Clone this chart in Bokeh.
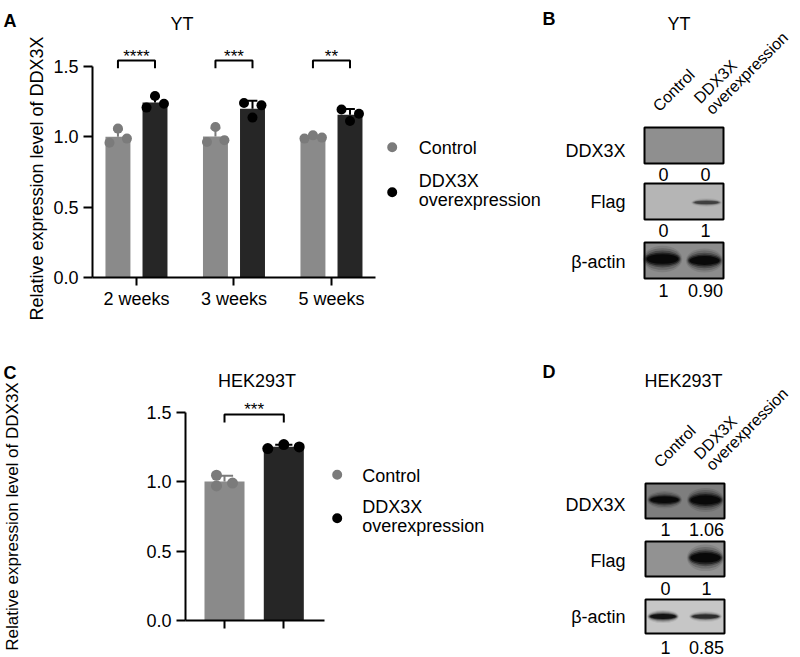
import numpy as np
from bokeh.plotting import figure
from bokeh.models import Range1d, FixedTicker, PrintfTickFormatter
from bokeh.layouts import row, column
from bokeh.embed import file_html
from bokeh.resources import INLINE
from bokeh.core.properties import value

FONT = "Liberation Sans"

# ---------------- data ----------------
weeks = ["2 weeks", "3 weeks", "5 weeks"]
yt_control = [[0.957, 1.057, 0.986], [0.962, 1.068, 0.974], [0.986, 1.009, 0.993]]
yt_ddx3x = [[1.206, 1.289, 1.234], [1.239, 1.135, 1.222], [1.192, 1.111, 1.163]]
yt_stars = ["****", "***", "**"]
hek_control = [[1.046, 0.969, 0.990]]
hek_ddx3x = [[1.238, 1.267, 1.250]]
hek_stars = ["***"]
y_ticks = [0.0, 0.5, 1.0, 1.5]
groups = ["Control", "DDX3X", "overexpression"]
y_title = "Relative expression level of DDX3X"
blot_rows = ["DDX3X", "Flag", "β-actin"]
lanes = ["Control", "DDX3X", "overexpression"]
yt_quant = [["0", "0"], ["0", "1"], ["1", "0.90"]]
hek_quant = [["1", "1.06"], ["0", "1"], ["1", "0.85"]]
yt_band = [[0.0, 0.0], [0.0, 0.45], [1.0, 0.95]]
hek_band = [[0.95, 1.0], [0.0, 1.0], [0.85, 0.6]]

CTRL_BAR, CTRL_PT = "#8a8a8a", "#7b7b7b"
DDX_BAR, DDX_PT = "#262626", "#000000"


def no_align(p):
    if "frame_align" in p.properties():
        p.frame_align = False
    return p


def t(p, x, y, s, size="18px", align="left", baseline="middle", bold=False, angle=0.0):
    p.text(x=[x], y=[y], text=[s], text_font=value(FONT), text_font_size=size,
           text_align=align, text_baseline=baseline, angle=angle,
           text_font_style="bold" if bold else "normal", text_color="black")


def bar_chart(width, height, borders, xr, yr, ctrl, ddx, xticks, xlabels, stars,
              bar_w, off, cap_w, jit_c, jit_d, pt, bracket_y, star_y, xs):
    ctrl = np.array(ctrl)
    ddx = np.array(ddx)
    xs = np.array(xs, dtype=float)
    p = figure(width=width, height=height, output_backend="svg", toolbar_location=None,
               x_range=Range1d(*xr), y_range=Range1d(*yr),
               min_border_left=borders[0], min_border_right=borders[1],
               min_border_top=borders[2], min_border_bottom=borders[3])
    no_align(p)
    p.xgrid.visible = False
    p.ygrid.visible = False
    p.outline_line_color = None
    for data, sign, bcol, pcol, jit in [(ctrl, -1, CTRL_BAR, CTRL_PT, jit_c),
                                        (ddx, 1, DDX_BAR, DDX_PT, jit_d)]:
        m = data.mean(axis=1)
        sd = data.std(axis=1, ddof=1)
        xc = xs + sign * off
        p.vbar(x=xc, top=m, bottom=0, width=bar_w, fill_color=bcol, line_color=None)
        p.segment(x0=xc, y0=m, x1=xc, y1=m + sd, line_color=pcol, line_width=2)
        p.segment(x0=xc - cap_w / 2, y0=m + sd, x1=xc + cap_w / 2, y1=m + sd,
                  line_color=pcol, line_width=2)
        px = (xc[:, None] + np.array(jit)[None, :]).ravel()
        p.scatter(x=px, y=data.ravel(), size=pt, fill_color=pcol, line_color=None)
    xl = xs - off
    xrr = xs + off
    p.multi_line(xs=[[a, a, b, b] for a, b in zip(xl, xrr)],
                 ys=[[bracket_y[1], bracket_y[0], bracket_y[0], bracket_y[1]]] * len(xs),
                 line_color="black", line_width=2)
    p.text(x=xs, y=[star_y] * len(xs), text=stars, text_font=value(FONT),
           text_font_size="17px", text_align="center", text_baseline="middle", text_color="black")
    p.xaxis.ticker = FixedTicker(ticks=list(xticks))
    p.xaxis.major_label_overrides = {k: v for k, v in zip(xticks, xlabels)}
    p.yaxis.ticker = FixedTicker(ticks=y_ticks)
    p.yaxis.formatter = PrintfTickFormatter(format="%.1f")
    p.yaxis.bounds = (0, 1.5)
    for ax in (p.xaxis[0], p.yaxis[0]):
        ax.axis_line_width = 2
        ax.axis_line_color = "black"
        ax.major_tick_line_width = 2
        ax.major_tick_line_color = "black"
        ax.major_tick_in = 0
        ax.minor_tick_line_color = None
        ax.major_label_text_font = FONT
        ax.major_label_text_font_size = "18px"
        ax.major_label_text_color = "black"
    p.yaxis.major_tick_out = 9
    p.yaxis.major_label_standoff = 5
    p.xaxis.major_tick_out = 8
    p.xaxis.major_label_standoff = 3
    return p


def blank(width, height):
    p = figure(width=width, height=height, output_backend="svg", toolbar_location=None,
               x_range=Range1d(0, width), y_range=Range1d(height, 0),
               x_axis_location=None, y_axis_location=None,
               min_border_left=0, min_border_right=0, min_border_top=0, min_border_bottom=0)
    no_align(p)
    p.xgrid.visible = False
    p.ygrid.visible = False
    p.outline_line_color = None
    return p


def legend(p, mx, my, tx, ty):
    p.scatter(x=[mx], y=[my[0]], size=10, fill_color=CTRL_PT, line_color=None)
    p.scatter(x=[mx], y=[my[1]], size=10, fill_color=DDX_PT, line_color=None)
    for s, y in zip(groups, ty):
        t(p, tx, y, s)


BLUR = [(1.10, 2.2, 0.10), (1.05, 1.8, 0.18), (1.0, 1.4, 0.32), (0.95, 1.1, 0.55), (0.88, 0.8, 0.9)]


def blot(p, box_x, tops, heights, bgs, lane_x, band_geo, strengths, quants, quant_y,
         label_x, label_y):
    x0, x1 = box_x
    for i in range(3):
        top, h = tops[i], heights[i]
        p.rect(x=(x0 + x1) / 2, y=top + h / 2, width=x1 - x0, height=h,
               fill_color=bgs[i], line_color=None)
        for j in range(2):
            s = strengths[i][j]
            if s <= 0:
                continue
            cx, cy, w, bh = band_geo[i][j]
            for sw, sh, a in BLUR:
                p.ellipse(x=cx, y=cy, width=w * sw, height=bh * sh,
                          fill_color="#050505", fill_alpha=a * s, line_color=None)
        p.rect(x=(x0 + x1) / 2, y=top + h / 2, width=x1 - x0, height=h,
               fill_color=None, line_color="black", line_width=2)
        t(p, label_x, label_y[i], blot_rows[i], align="right")
        for j in range(2):
            t(p, lane_x[j], quant_y[i], quants[i][j], align="center")


def lane_labels(p, anchors):
    for s, (x, y) in zip(lanes, anchors):
        t(p, x, y, s, size="16px", baseline="alphabetic", angle=np.pi / 4)


# ---------------- Panel A ----------------
A_L, A_B, A_XS, A_YS, A_X0 = 92.0, 277.0, 97.5, 140.87, 0.549   # frame pixels / scales
pLA = blank(50, 322)
t(pLA, 3, 20, "A", bold=True, baseline="alphabetic")
t(pLA, 36, 178, y_title, align="center", angle=np.pi / 2)

pA = bar_chart(330, 322, (42, 5, 0, 45), (A_X0, A_X0 + 283 / A_XS), (0, A_B / A_YS),
               yt_control, yt_ddx3x, [1, 2, 3], weeks, yt_stars,
               0.256, 0.19, 0.10, [-0.087, 0.0, 0.092], [-0.087, 0.0, 0.092], 10,
               (1.54, 1.486), 1.57, [1, 2, 3])
t(pA, A_X0 + (181.5 - A_L) / A_XS, (A_B - 23.5) / A_YS, "YT", align="center", baseline="alphabetic")

# ---------------- Panel B (+ legend of A) ----------------
pB = blank(420, 322)
legend(pB, 11.7, (146.7, 191.7), 38.3, (147, 180, 199))
t(pB, 162, 18.3, "B", bold=True, baseline="alphabetic")
t(pB, 298.5, 23.3, "YT", align="center", baseline="alphabetic")
lane_labels(pB, [(275, 108), (316, 100), (328, 111)])
blot(pB, (264, 343), [127, 183, 242], [36, 36, 36], ["#8f8f8f", "#b5b5b5", "#8c8c8c"],
     [283, 325],
     [[(283, 145, 34, 10), (325, 145, 34, 10)],
      [(283, 202, 28, 4), (326, 202, 28, 4)],
      [(282, 258.5, 36, 12), (324, 260, 34, 11)]],
     yt_band, yt_quant, [174, 230, 290], 245, [150, 201.6, 261])

# ---------------- Panel C ----------------
C_L, C_B, C_XS, C_YS, C_TOP = 185.0, 620.0, 59.3, 138.87, 322.0
pLC = blank(30, 335)
t(pLC, 3, 372 - C_TOP, "C", bold=True, baseline="alphabetic")
t(pLC, 12, 516 - C_TOP, y_title, size="17px", align="center", angle=np.pi / 2)

pC = bar_chart(300, 335, (155, 6, 0, 37),
               (1 + (C_L - 224) / C_XS, 1 + (324 - 224) / C_XS), (0, (C_B - C_TOP) / C_YS),
               hek_control, hek_ddx3x, [1, 2], ["", ""], hek_stars,
               0.675, 0.5, 0.29, [-0.135, -0.135, 0.135], [-0.27, 0.0, 0.26], 11,
               (1.483, 1.426), 1.519, [1.5])
t(pC, 1 + (256.5 - 224) / C_XS, (C_B - 380) / C_YS, "HEK293T", align="center", baseline="alphabetic")

# ---------------- Panel D (+ legend of C) ----------------
pD = blank(470, 335)
legend(pD, 6.7, (152.3, 195.7), 31.7, (153, 184.5, 203.5))
t(pD, 212, 49.7, "D", bold=True, baseline="alphabetic")
t(pD, 353, 58, "HEK293T", align="center", baseline="alphabetic")
lane_labels(pD, [(326, 142), (366, 134), (378, 145)])
blot(pD, (315, 394), [161, 219, 277], [35, 35, 34], ["#7e7e7e", "#929292", "#c6c6c6"],
     [335, 376],
     [[(334, 177.3, 32, 8), (375, 177.5, 34, 11)],
      [(334, 235.3, 34, 12), (375, 235.3, 34, 12)],
      [(332.5, 294, 29, 6), (375, 294, 30, 5)]],
     hek_band, hek_quant, [207, 266, 325], 295, [182, 238, 294])

layout = column(row(pLA, pA, pB, spacing=0), row(pLC, pC, pD, spacing=0), spacing=0)
open("out.html", "w").write(file_html(layout, INLINE))
